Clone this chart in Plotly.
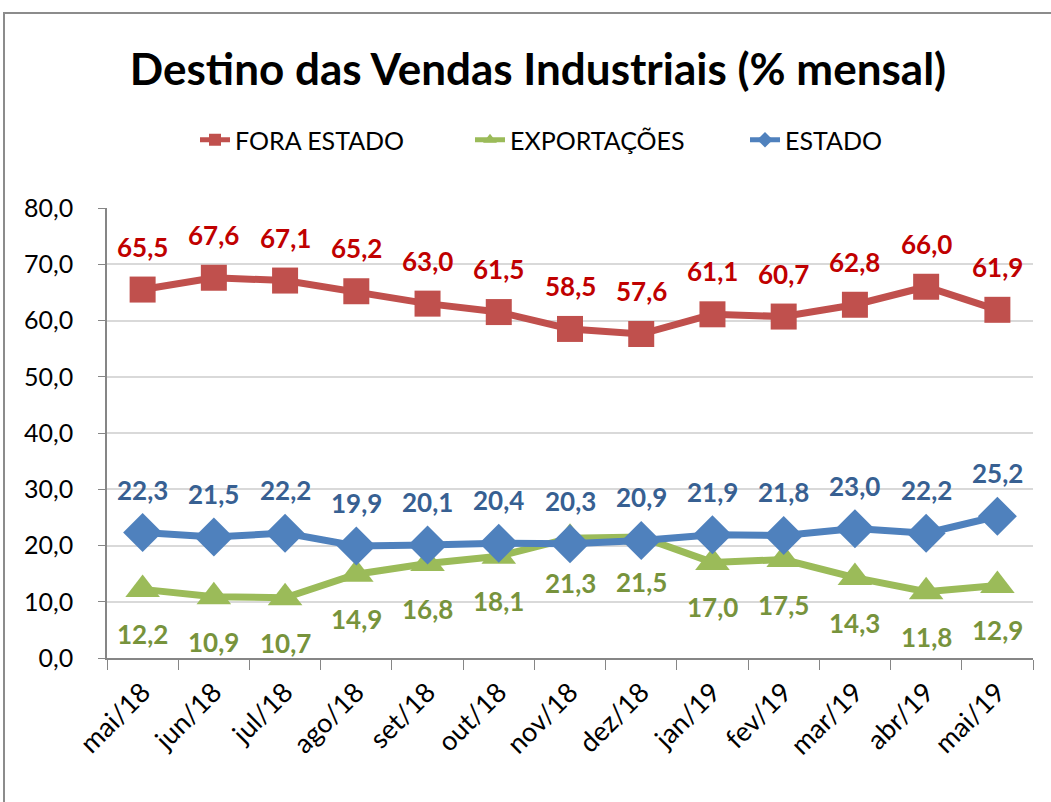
import plotly.graph_objects as go

months = ["mai/18", "jun/18", "jul/18", "ago/18", "set/18", "out/18", "nov/18",
          "dez/18", "jan/19", "fev/19", "mar/19", "abr/19", "mai/19"]
fora_estado = [65.5, 67.6, 67.1, 65.2, 63.0, 61.5, 58.5, 57.6, 61.1, 60.7, 62.8, 66.0, 61.9]
exportacoes = [12.2, 10.9, 10.7, 14.9, 16.8, 18.1, 21.3, 21.5, 17.0, 17.5, 14.3, 11.8, 12.9]
estado = [22.3, 21.5, 22.2, 19.9, 20.1, 20.4, 20.3, 20.9, 21.9, 21.8, 23.0, 22.2, 25.2]

FONT = "Lato"

series = [
    ("FORA ESTADO", fora_estado, "#C0504D", "square", 26, "#C00000", 43),
    ("EXPORTAÇÕES", exportacoes, "#9BBB59", "triangle-up", 30, "#77933C", -45),
    ("ESTADO", estado, "#4F81BD", "diamond", 30, "#376092", 43),
]

fig = go.Figure()
annotations = []
for name, vals, color, sym, msize, lcolor, shift in series:
    fig.add_trace(go.Scatter(
        x=months, y=vals, name=name, mode="lines+markers",
        line=dict(color=color, width=7),
        marker=dict(symbol=sym, size=msize, color=color),
    ))
    for m, v in zip(months, vals):
        annotations.append(dict(
            x=m, y=v, xref="x", yref="y", text=f"{v:.1f}".replace(".", ","),
            showarrow=False, yshift=shift,
            font=dict(family=FONT, size=26, color=lcolor, weight="bold"),
        ))

W, H = 1051, 802
# target plot area in screenshot pixels: x 107..1033, y 208..658
L, R = 107, W - 1033
T, B = 208, H - 658
pw, ph = W - L - R, H - T - B

def px(xs):
    return (xs - L) / pw

def py(ys):
    return (H - B - ys) / ph

fig.update_layout(
    width=W, height=H,
    margin=dict(l=L, r=R, t=T, b=B, autoexpand=False),
    paper_bgcolor="white", plot_bgcolor="white",
    separators=",.",
    font=dict(family=FONT, size=24, color="#000000"),
    title=dict(text="<b>Destino das Vendas Industriais (% mensal)</b>",
               x=538 / W, xref="container", xanchor="center",
               y=1 - 70 / H, yref="container", yanchor="middle",
               font=dict(family=FONT, size=44, color="#000000")),
    legend=dict(orientation="h", x=px(195), xanchor="left",
                y=py(140), yanchor="middle",
                entrywidth=230, entrywidthmode="pixels",
                font=dict(family=FONT, size=25, color="#000000"),
                itemsizing="constant", traceorder="normal"),
    annotations=annotations,
    shapes=[dict(type="rect", xref="paper", yref="paper",
                 x0=px(4), x1=px(1070), y0=py(820), y1=py(13),
                 line=dict(color="#8C8C8C", width=2), layer="below")],
    showlegend=True,
)
fig.update_xaxes(
    type="category", range=[-0.5, len(months) - 0.5],
    showline=True, linecolor="#868686", linewidth=1.5,
    ticks="outside", tickson="boundaries", ticklen=10, tickcolor="#868686",
    tickangle=-45, showgrid=False, automargin=False, ticklabelstandoff=6,
    tickfont=dict(family=FONT, size=27, color="#000000"),
)
fig.update_yaxes(
    range=[0, 80], dtick=10, tickformat=".1f", automargin=False,
    showline=True, linecolor="#868686", linewidth=1.5,
    ticks="outside", ticklen=7, tickcolor="#868686", ticklabelstandoff=20,
    showgrid=True, gridcolor="#D9D9D9", gridwidth=1.5,
    tickfont=dict(family=FONT, size=25, color="#000000"),
    zeroline=False,
)

fig.write_html("out.html", config={"displayModeBar": False},
               post_script="document.body.style.margin='0';document.body.style.overflow='hidden';")
